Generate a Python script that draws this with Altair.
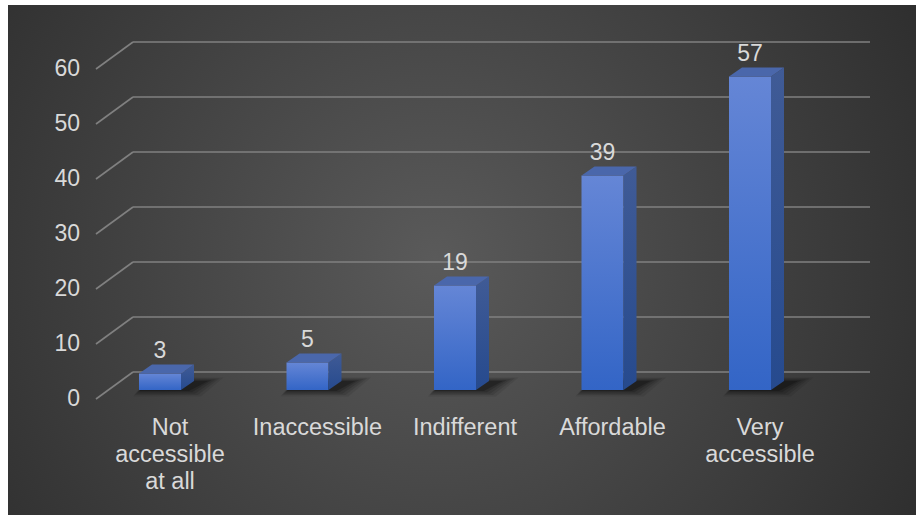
import altair as alt
import pandas as pd

# ---------------- data ----------------
categories = ["Not accessible at all", "Inaccessible", "Indifferent", "Affordable", "Very accessible"]
category_labels = ["Not\naccessible\nat all", "Inaccessible", "Indifferent", "Affordable", "Very\naccessible"]
values = [3, 5, 19, 39, 57]
y_ticks = [0, 10, 20, 30, 40, 50, 60]
y_tick_labels = ["0", "10", "20", "30", "40", "50", "60"]

# ---------------- layout / style ----------------
W, H = 916, 515
X_RANGE = [160, 750]          # pixel centre of first / last bar
Y_RANGE = [390, 60]           # pixel of value 0 / 60 at the bars' front
Y_DOMAIN = [0, 60]
PX = (X_RANGE[1] - X_RANGE[0]) / (len(categories) - 1)
PY = (Y_RANGE[0] - Y_RANGE[1]) / (Y_DOMAIN[1] - Y_DOMAIN[0])


def ux(p):
    return p / PX


def uy(p):
    return p / PY


HALF = ux(21)                 # half bar width
DX, DY = ux(13), uy(9)        # bar depth
WALL_DY = uy(18)              # back wall depth
FLOOR_DY = uy(9)              # floor front edge
GRID_X0, GRID_X1 = ux(133 - X_RANGE[0]), ux(870 - X_RANGE[0])
FLOOR_X = ux(96 - X_RANGE[0])
TICK_X = ux(80 - X_RANGE[0])
TEXT = "#d9d9d9"
GRID = "#808080"
FONT = "Liberation Sans"

xs = alt.Scale(domain=[0, len(categories) - 1], range=X_RANGE, nice=False, zero=False)
ys = alt.Scale(domain=Y_DOMAIN, range=Y_RANGE, nice=False, zero=False)


def X(f):
    return alt.X(f, type="quantitative", scale=xs, axis=None)


def Y(f):
    return alt.Y(f, type="quantitative", scale=ys, axis=None)


# ---------------- tables ----------------
bars = pd.DataFrame({
    "cat": categories,
    "label": category_labels,
    "i": list(range(len(categories))),
    "v": values,
})
bars["left"] = bars["i"] - HALF
bars["right"] = bars["i"] + HALF
bars["base"] = 0.0

side_rows, top_rows = [], []
for c, i, v in zip(categories, range(len(categories)), values):
    side_rows.append({"cat": c, "x": i + HALF, "top": v, "bot": 0.0})
    side_rows.append({"cat": c, "x": i + HALF + DX, "top": v + DY, "bot": DY})
    top_rows.append({"cat": c, "y": v, "xl": i - HALF, "xr": i + HALF})
    top_rows.append({"cat": c, "y": v + DY, "xl": i - HALF + DX, "xr": i + HALF + DX})
side = pd.DataFrame(side_rows)
top = pd.DataFrame(top_rows)

grid = pd.DataFrame({"v": y_ticks, "lab": y_tick_labels})
grid["yb"] = grid["v"] + WALL_DY
grid["yf"] = grid["v"] - FLOOR_DY
grid["x0"] = GRID_X0
grid["x1"] = GRID_X1
grid["xf"] = FLOOR_X
grid["xt"] = TICK_X

# ---------------- layers ----------------
bg = alt.Chart(pd.DataFrame({"a": [0]})).mark_rect(
    fill={
        "gradient": "radial",
        "x1": 0.47, "y1": 0.5, "r1": 0,
        "x2": 0.47, "y2": 0.5, "r2": 0.72,
        "stops": [
            {"offset": 0, "color": "#5a5a5a"},
            {"offset": 1, "color": "#262626"},
        ],
    }
).encode(x=alt.value(8), x2=alt.value(W), y=alt.value(5), y2=alt.value(H))

grid_back = alt.Chart(grid).mark_rule(color=GRID, strokeWidth=1.6).encode(
    x=X("x0"), x2="x1", y=Y("yb")
)
grid_side = alt.Chart(grid).mark_rule(color=GRID, strokeWidth=1.6).encode(
    x=X("xf"), x2="x0", y=Y("yf"), y2="yb"
)
tick_text = alt.Chart(grid).mark_text(
    align="right", baseline="middle", font=FONT, fontSize=23, color=TEXT
).encode(x=X("xt"), y=Y("yf"), text="lab:N")

# soft floor shadow: several stacked translucent layers
shadow_layers = []
for grow, op in [(12, 0.08), (9, 0.1), (6, 0.12), (3, 0.16), (0, 0.22)]:
    rows = []
    for c, i in zip(categories, range(len(categories))):
        rows.append({"cat": c, "y": -uy(1 + grow * 0.45),
                     "xl": i - HALF - ux(grow * 0.5), "xr": i + HALF + ux(8 + grow)})
        rows.append({"cat": c, "y": DY + uy(grow * 0.3),
                     "xl": i - HALF + DX - ux(grow * 0.3), "xr": i + HALF + DX + ux(14 + grow * 1.3)})
    sdf = pd.DataFrame(rows)
    shadow_layers.append(
        alt.Chart(sdf).mark_area(orient="horizontal", color="#000000", opacity=op).encode(
            y=Y("y"), x=X("xl"), x2="xr", detail="cat:N"
        )
    )

front = alt.Chart(bars).mark_rect(
    fill={
        "gradient": "linear", "x1": 0, "y1": 0, "x2": 0, "y2": 1,
        "stops": [
            {"offset": 0, "color": "#6586d6"},
            {"offset": 1, "color": "#3365c6"},
        ],
    }
).encode(x=X("left"), x2="right", y=Y("v"), y2="base")

side_face = alt.Chart(side).mark_area(
    fill={
        "gradient": "linear", "x1": 0, "y1": 0, "x2": 0, "y2": 1,
        "stops": [
            {"offset": 0, "color": "#405b96"},
            {"offset": 1, "color": "#264a8e"},
        ],
    }
).encode(x=X("x"), y=Y("top"), y2="bot", detail="cat:N")

top_face = alt.Chart(top).mark_area(orient="horizontal", color="#4a67ab").encode(
    y=Y("y"), x=X("xl"), x2="xr", detail="cat:N"
)

value_text = alt.Chart(bars).mark_text(
    align="center", baseline="middle", dy=-23, font=FONT, fontSize=23, color=TEXT
).encode(x=X("i"), y=Y("v"), text="v:Q")

cat_text = alt.Chart(bars).mark_text(
    align="center", baseline="top", dx=10, dy=26, lineBreak="\n", lineHeight=27,
    font=FONT, fontSize=23.5, color=TEXT
).encode(x=X("i"), y=Y("base"), text="label:N")

chart = alt.layer(
    bg, grid_back, grid_side, tick_text, *shadow_layers, front, side_face, top_face,
    value_text, cat_text
).properties(
    width=W, height=H, padding=0, autosize="none", background="white"
).configure_view(stroke=None)

chart.save("out.html", embed_options={"renderer": "svg", "actions": False})
